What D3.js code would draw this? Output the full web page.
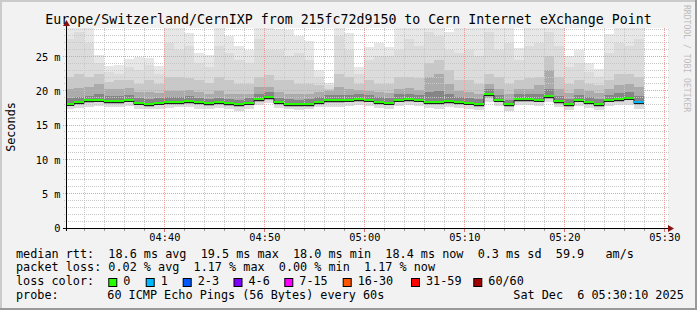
<!DOCTYPE html>
<html>
<head>
<meta charset="utf-8">
<script src="https://cdn.jsdelivr.net/npm/d3@7"></script>
<style>
  body { margin: 0; background: #f2f2f2; }
  svg { display: block; font-family: "DejaVu Sans Mono", monospace; }
  svg text { white-space: pre; }
</style>
</head>
<body>
<div id="chart"></div>
<script>
// one column per minute, 04:30 .. 05:27 (ms)
const medianRtt = [18.12, 18.37, 18.6, 18.7, 18.56, 18.56, 18.7, 18.27, 18.12, 18.27,
  18.42, 18.42, 18.56, 18.3, 18.17, 18.42, 18.17, 18.03, 18.27, 18.85,
  19.1, 18.37, 18.12, 18.12, 18.12, 18.42, 18.6, 18.6, 18.66, 18.85,
  18.71, 18.42, 18.27, 18.71, 18.85, 18.71, 18.37, 18.37, 18.56, 18.42,
  18.27, 18.12, 19.5, 18.71, 18.03, 18.85, 18.85, 18.71, 19.24, 18.56,
  18.12, 18.71, 18.42, 18.12, 18.71, 18.85, 19.0, 18.37];
const maxRtt = [29.5, 29.5, 29.2, 25.2, 23.6, 23.8, 24.6, 24.9, 24.8, 23.6,
  29.5, 29.3, 28.4, 25.5, 25.2, 29.5, 28.0, 26.5, 26.0, 29.2,
  29.5, 29.0, 28.8, 28.0, 27.2, 23.0, 21.2, 29.5, 28.4, 23.4,
  26.4, 26.9, 26.4, 29.5, 29.5, 29.5, 29.5, 29.5, 28.6, 29.5,
  29.5, 29.5, 29.5, 29.5, 29.5, 26.2, 29.5, 29.5, 29.5, 29.5,
  25.0, 26.0, 24.0, 23.2, 28.3, 29.5, 29.5, 29.5];
const p95Rtt = [27.5, 28.5, 27.0, 24.0, 22.8, 22.5, 23.5, 23.0, 23.8, 22.5,
  27.0, 26.0, 26.5, 24.0, 23.5, 26.5, 25.5, 24.5, 24.0, 27.5,
  26.0, 26.0, 25.0, 25.5, 24.5, 22.0, 20.8, 28.0, 26.0, 22.5,
  24.5, 25.0, 25.0, 26.0, 27.5, 26.5, 28.5, 28.0, 26.0, 25.5,
  26.0, 25.0, 28.5, 26.0, 27.0, 24.5, 26.5, 27.0, 28.5, 26.5,
  23.5, 24.0, 22.8, 22.0, 25.5, 27.0, 26.5, 27.5];
const p85Rtt = [22.0, 22.5, 22.0, 22.5, 21.3, 21.5, 21.5, 21.0, 21.5, 21.0,
  22.0, 22.0, 21.8, 21.5, 21.2, 22.0, 21.5, 21.0, 21.0, 22.0,
  22.3, 21.5, 21.5, 21.0, 21.0, 20.8, 20.3, 22.5, 22.0, 21.0,
  21.5, 21.0, 21.0, 22.0, 22.0, 21.8, 24.0, 24.5, 23.0, 21.5,
  21.5, 21.0, 22.5, 22.0, 21.0, 21.5, 21.8, 22.0, 25.0, 22.0,
  21.0, 21.5, 21.0, 20.8, 21.5, 22.5, 22.5, 22.0];
const p70Rtt = [20.2, 20.4, 20.5, 21.0, 20.2, 20.3, 20.4, 19.8, 19.8, 19.7,
  20.0, 20.0, 20.1, 19.8, 19.6, 19.9, 19.6, 19.5, 19.6, 20.5,
  20.6, 19.8, 19.6, 19.5, 19.6, 19.8, 20.0, 20.5, 20.2, 20.1,
  20.0, 19.8, 19.7, 20.3, 20.4, 20.1, 22.0, 22.5, 21.0, 19.9,
  19.8, 19.6, 21.0, 20.2, 19.6, 20.3, 20.2, 20.8, 23.0, 20.2,
  19.7, 20.3, 19.9, 19.7, 20.2, 20.8, 21.0, 20.5];
const p60Rtt = [18.9, 19.1, 19.3, 19.6, 19.3, 19.3, 19.4, 18.9, 18.8, 18.9,
  19.1, 19.1, 19.2, 18.9, 18.8, 19.0, 18.8, 18.7, 18.9, 19.6,
  19.8, 19.0, 18.8, 18.7, 18.8, 19.1, 19.4, 19.4, 19.4, 19.6,
  19.4, 19.1, 18.9, 19.5, 19.6, 19.4, 19.8, 20.0, 19.6, 19.1,
  19.0, 18.8, 20.2, 19.4, 18.7, 19.6, 19.5, 19.6, 20.3, 19.3,
  18.8, 19.4, 19.1, 18.8, 19.4, 19.7, 19.8, 19.2];
const p15Rtt = [17.8, 18.0, 18.2, 18.3, 18.1, 18.1, 18.3, 17.9, 17.7, 17.9,
  18.0, 18.0, 18.1, 17.9, 17.8, 18.0, 17.8, 17.6, 17.9, 18.4,
  18.7, 18.0, 17.7, 17.7, 17.7, 18.0, 18.2, 18.2, 18.3, 18.4,
  18.3, 18.0, 17.9, 18.3, 18.4, 18.3, 18.0, 17.9, 18.1, 18.0,
  17.9, 17.7, 19.0, 18.3, 17.6, 18.4, 18.4, 18.3, 18.8, 18.1,
  17.7, 18.3, 18.0, 17.7, 18.3, 18.4, 18.6, 17.9];
const minRtt = [17.3, 17.5, 17.7, 17.8, 17.6, 17.7, 17.8, 17.4, 17.3, 17.4,
  17.5, 17.6, 17.7, 17.4, 17.3, 17.5, 17.3, 17.1, 17.4, 17.9,
  18.2, 17.5, 17.3, 17.2, 17.3, 17.6, 17.7, 17.7, 17.8, 17.9,
  17.8, 17.5, 17.4, 17.8, 17.9, 17.8, 17.5, 17.4, 17.6, 17.5,
  17.4, 17.2, 18.4, 17.8, 17.1, 17.9, 17.9, 17.8, 18.3, 17.6,
  17.2, 17.8, 17.5, 17.2, 17.8, 17.9, 18.0, 17.4];
// lost pings out of 60 per column
const lostPings = [0, 0, 0, 0, 0, 0, 0, 0, 0, 0, 0, 0, 0, 0, 0, 0, 0, 0, 0, 0,
  0, 0, 0, 0, 0, 0, 0, 0, 0, 0, 0, 0, 0, 0, 0, 0, 0, 0, 0, 0,
  0, 0, 0, 0, 0, 0, 0, 0, 0, 0, 0, 0, 0, 0, 0, 0, 0, 1];

const lossLabels = ["0", "1", "2-3", "4-6", "7-15", "16-30", "31-59", "60/60"];
const lossUpper = [0, 1, 3, 6, 15, 30, 59, 60];
const lossColors = ["#26ff00", "#00b8ff", "#0059ff", "#7e00ff", "#ff00ff", "#ff5500", "#ff0000", "#a10000"];

const yTicks = [0, 5, 10, 15, 20, 25];
const titleText = "Europe/Switzerland/CernIXP from 215fc72d9150 to Cern Internet eXchange Point";
const rttLine = "median rtt:  18.6 ms avg  19.5 ms max  18.0 ms min  18.4 ms now  0.3 ms sd  59.9   am/s";
const lossLine = "packet loss: 0.02 % avg  1.17 % max  0.00 % min  1.17 % now";
const probeText = "60 ICMP Echo Pings (56 Bytes) every 60s";
const stampText = "Sat Dec  6 05:30:10 2025";

const W = 697, H = 310;
const plot = { left: 66, right: 666, top: 28, bottom: 228 };
const t0 = new Date(Date.UTC(2025, 11, 6, 4, 30, 10));
const t1 = new Date(Date.UTC(2025, 11, 6, 5, 30, 10));
const firstCol = new Date(Date.UTC(2025, 11, 6, 4, 30, 0));

const x = d3.scaleUtc().domain([t0, t1]).range([plot.left, plot.right]);
const y = d3.scaleLinear().domain([0, 29.15]).range([plot.bottom, plot.top]);
const px = v => Math.floor(v) + 0.5;

const cols = medianRtt.map((m, i) => ({
  t: d3.utcMinute.offset(firstCol, i),
  med: m, max: maxRtt[i], p95: p95Rtt[i], p85: p85Rtt[i], p70: p70Rtt[i],
  p60: p60Rtt[i], p15: p15Rtt[i], min: minRtt[i], lost: lostPings[i]
}));

const svg = d3.select("#chart").append("svg")
  .attr("width", W).attr("height", H);

// background + frame
svg.append("rect").attr("width", W).attr("height", H).attr("fill", "#f2f2f2");
svg.append("rect").attr("x", 0).attr("y", 0).attr("width", W).attr("height", 2).attr("fill", "#cbcbcb");
svg.append("rect").attr("x", 0).attr("y", 0).attr("width", 2).attr("height", H).attr("fill", "#cbcbcb");
svg.append("rect").attr("x", 0).attr("y", H - 2).attr("width", W).attr("height", 2).attr("fill", "#999");
svg.append("rect").attr("x", W - 2).attr("y", 0).attr("width", 2).attr("height", H).attr("fill", "#999");

svg.append("rect")
  .attr("x", plot.left).attr("y", plot.top)
  .attr("width", plot.right - plot.left + 2).attr("height", plot.bottom - plot.top)
  .attr("fill", "#fff");

svg.append("defs").append("clipPath").attr("id", "clip")
  .append("rect")
  .attr("x", plot.left + 1).attr("y", plot.top)
  .attr("width", plot.right - plot.left).attr("height", plot.bottom - plot.top);

// smoke
const bands = [
  ["min", "max", "#e7e7e7"],
  ["min", "p95", "#dcdcdc"],
  ["p15", "p85", "#c8c8c8"],
  ["p15", "p70", "#ababab"],
  ["med", "p60", "#858585"]
];
const smoke = svg.append("g").attr("clip-path", "url(#clip)").attr("shape-rendering", "crispEdges");
bands.forEach(([lo, hi, color]) => {
  smoke.append("g").selectAll("rect")
    .data(cols)
    .join("rect")
    .attr("x", d => Math.round(x(d.t)))
    .attr("width", d => Math.round(x(d3.utcMinute.offset(d.t, 1))) - Math.round(x(d.t)))
    .attr("y", d => Math.round(y(d[hi])))
    .attr("height", d => Math.round(y(d[lo])) - Math.round(y(d[hi])))
    .attr("fill", color);
});

// grid
const grid = svg.append("g").attr("fill", "none");
const vMinor = d3.utcMinute.every(2).range(t0, t1).filter(t => t.getUTCMinutes() % 10 !== 0);
const vMajor = d3.utcMinute.every(10).range(t0, t1);
const hMinor = d3.range(1, 30).filter(v => v % 5 !== 0 && y(v) >= plot.top);
const hMajor = yTicks.filter(v => v > 0);

grid.selectAll(".vmin").data(vMinor).join("line")
  .attr("x1", d => px(x(d))).attr("x2", d => px(x(d)))
  .attr("y1", plot.top).attr("y2", plot.bottom)
  .attr("stroke", "#c8c8c8").attr("stroke-dasharray", "1,1");
grid.selectAll(".hmin").data(hMinor).join("line")
  .attr("x1", plot.left - 2).attr("x2", plot.right + 3)
  .attr("y1", d => px(y(d))).attr("y2", d => px(y(d)))
  .attr("stroke", "#c8c8c8").attr("stroke-dasharray", "1,1");
grid.selectAll(".vmaj").data(vMajor).join("line")
  .attr("x1", d => px(x(d))).attr("x2", d => px(x(d)))
  .attr("y1", plot.top).attr("y2", plot.bottom)
  .attr("stroke", "#f29a9a").attr("stroke-dasharray", "1,1");
grid.selectAll(".hmaj").data(hMajor).join("line")
  .attr("x1", plot.left - 3).attr("x2", plot.right + 3)
  .attr("y1", d => px(y(d))).attr("y2", d => px(y(d)))
  .attr("stroke", "#f29a9a").attr("stroke-dasharray", "1,1");

// small ticks under the time axis
grid.selectAll(".tmin").data(vMinor).join("line")
  .attr("x1", d => px(x(d))).attr("x2", d => px(x(d)))
  .attr("y1", plot.bottom + 1).attr("y2", plot.bottom + 3)
  .attr("stroke", "#999");
grid.selectAll(".tmaj").data(vMajor).join("line")
  .attr("x1", d => px(x(d))).attr("x2", d => px(x(d)))
  .attr("y1", plot.bottom + 1).attr("y2", plot.bottom + 4)
  .attr("stroke", "#e07070");

// median + loss colour
const lossIndex = n => lossUpper.findIndex(u => n <= u);
const medLine = d3.line()
  .x(d => Math.round(x(d.t)))
  .y(d => Math.round(y(d.med)) + 1.5)
  .curve(d3.curveStepAfter);
const lastCol = cols[cols.length - 1];
svg.append("path")
  .attr("clip-path", "url(#clip)")
  .datum(cols.concat([{ t: d3.utcMinute.offset(lastCol.t, 1), med: lastCol.med }]))
  .attr("d", medLine)
  .attr("fill", "none").attr("stroke", "#202020").attr("stroke-width", 1);
svg.append("g").attr("clip-path", "url(#clip)").attr("shape-rendering", "crispEdges")
  .selectAll("rect").data(cols).join("rect")
  .attr("x", d => Math.round(x(d.t)))
  .attr("width", d => Math.round(x(d3.utcMinute.offset(d.t, 1))) - Math.round(x(d.t)))
  .attr("y", d => Math.round(y(d.med)) - 1)
  .attr("height", 2)
  .attr("fill", d => lossColors[lossIndex(d.lost)]);

// axes lines + arrows
svg.append("line").attr("x1", plot.left - 3).attr("x2", plot.right + 5)
  .attr("y1", plot.bottom + 0.5).attr("y2", plot.bottom + 0.5).attr("stroke", "#000");
svg.append("line").attr("x1", plot.left + 0.5).attr("x2", plot.left + 0.5)
  .attr("y1", plot.bottom + 3).attr("y2", plot.top - 3).attr("stroke", "#000");
svg.append("path").attr("d", `M${plot.right + 2},${plot.bottom - 3}L${plot.right + 8},${plot.bottom + 0.5}L${plot.right + 2},${plot.bottom + 4}Z`)
  .attr("fill", "#8b1010");
svg.append("path").attr("d", `M${plot.left - 3},${plot.top - 2}L${plot.left + 0.5},${plot.top - 8}L${plot.left + 4},${plot.top - 2}Z`)
  .attr("fill", "#8b1010");

// axis labels
const xAxis = svg.append("g").attr("transform", `translate(0,${plot.bottom})`)
  .call(d3.axisBottom(x).tickValues(vMajor).tickFormat(d3.utcFormat("%H:%M")).tickSize(0));
xAxis.select(".domain").remove();
xAxis.selectAll("text").attr("y", 12.5).attr("dy", null)
  .attr("font-family", "DejaVu Sans Mono").attr("font-size", "10.3px").attr("fill", "#000");

const yAxis = svg.append("g").attr("transform", `translate(${plot.left},0)`)
  .call(d3.axisLeft(y).tickValues(yTicks).tickFormat(d => d === 0 ? "0" : d + " m").tickSize(0));
yAxis.select(".domain").remove();
yAxis.selectAll("text").attr("x", -5.5).attr("dy", null).attr("y", 3.7)
  .attr("font-family", "DejaVu Sans Mono").attr("font-size", "10.3px").attr("fill", "#000");

// title, unit, watermark
svg.append("text").attr("x", W / 2).attr("y", 23.5).attr("text-anchor", "middle")
  .attr("font-size", "13.25px").attr("fill", "#000").text(titleText);
svg.append("text").attr("transform", "translate(15,127) rotate(-90)").attr("text-anchor", "middle")
  .attr("font-size", "11.8px").attr("fill", "#000").text("Seconds");
svg.append("text").attr("transform", "translate(684,5) rotate(90)")
  .attr("font-size", "8.1px").attr("fill", "#bdbdbd").text("RRDTOOL / TOBI OETIKER");

// legend
const leg = svg.append("g").attr("font-size", "11.8px").attr("fill", "#000");
const rowY = [257.5, 271.3, 285.1, 298.9];
const boxX = [108.3, 145.7, 182.7, 233.5, 284.3, 342.7, 411, 473.3];

leg.append("text").attr("x", 16).attr("y", rowY[0]).text(rttLine);
leg.append("text").attr("x", 16).attr("y", rowY[1]).text(lossLine);
leg.append("text").attr("x", 16).attr("y", rowY[2]).text("loss color:");
lossLabels.forEach((s, i) => {
  leg.append("rect").attr("x", boxX[i] + 0.5).attr("y", 278.5).attr("width", 8).attr("height", 8)
    .attr("fill", lossColors[i]).attr("stroke", "#000");
  leg.append("text").attr("x", boxX[i] + 15).attr("y", rowY[2]).text(s);
});
leg.append("text").attr("x", 16).attr("y", rowY[3]).text("probe:");
leg.append("text").attr("x", 107.3).attr("y", rowY[3]).text(probeText);
leg.append("text").attr("x", 513.3).attr("y", rowY[3]).text(stampText);
</script>
</body>
</html>
